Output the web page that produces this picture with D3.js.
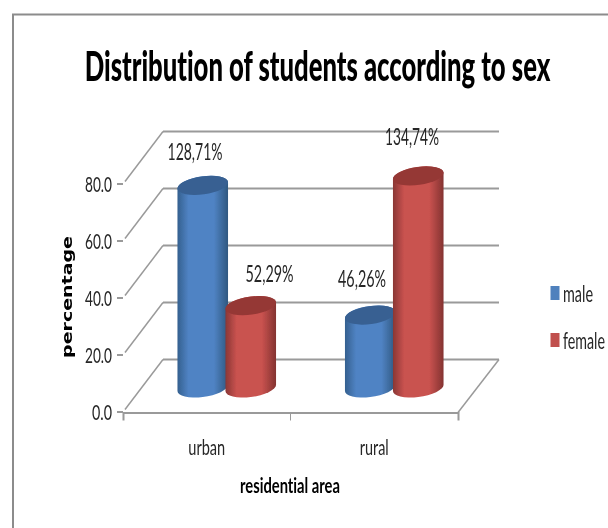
<!DOCTYPE html>
<html><head><meta charset="utf-8">
<script src="https://cdnjs.cloudflare.com/ajax/libs/d3/7.8.5/d3.min.js"></script>
<style>html,body{margin:0;padding:0;background:#fff}svg{display:block}text{font-variant-ligatures:none}</style>
</head><body><svg id="c" width="608" height="528"></svg>
<script>
const categories = ["urban", "rural"];
const seriesNames = ["male", "female"];
const maleValues = [71.1, 25.6];
const femaleValues = [28.9, 74.4];
const maleLabels = ["128,71%", "46,26%"];
const femaleLabels = ["52,29%", "134,74%"];
const yTicks = [0, 20, 40, 60, 80];
const titleText = "Distribution of students according to sex";

const root = d3.select("#c");
const FONT = "Lato,'Open Sans',sans-serif";
const defs = root.append("defs");
const soft = defs.append("filter").attr("id","soft").attr("filterUnits","userSpaceOnUse")
  .attr("x",0).attr("y",0).attr("width",608).attr("height",528);
soft.append("feGaussianBlur").attr("stdDeviation",0.4);
const svg = root.append("g").attr("filter","url(#soft)");

function grad(id, edgeL, mid, edgeR){
  const g = defs.append("linearGradient").attr("id",id).attr("x1",0).attr("x2",1).attr("y1",0).attr("y2",0);
  [[0,edgeL],[0.22,mid],[0.72,mid],[1,edgeR]].forEach(s=>g.append("stop").attr("offset",s[0]).attr("stop-color",s[1]));
}
grad("gm","#34608f","#5083c4","#2f5880");
grad("gf","#8a3735","#c9524f","#843331");

const colours = {male:{body:"url(#gm)",top:"#376092",key:"#4f81bd"},female:{body:"url(#gf)",top:"#953735",key:"#c0504d"}};
const y = d3.scaleLinear().domain([0,80]).range([411.5,183.5]);
const x = d3.scaleBand().domain(categories).range([123,458]);
const xs = d3.scaleBand().domain(seriesNames).range([-48,48]);
const depthX = 40, depthY = -52, lineCol = "#9a9a9a";

// outer frame
svg.append("path").attr("d","M13,528V14.5H608").attr("fill","none").attr("stroke","#8c8c8c").attr("stroke-width",2);

const plot = svg.append("g");
yTicks.forEach(t=>{
  const yy = y(t);
  plot.append("line").attr("x1",123+depthX).attr("x2",458+depthX+1).attr("y1",yy+depthY).attr("y2",yy+depthY).attr("stroke",lineCol).attr("stroke-width",2);
  plot.append("line").attr("x1",125).attr("x2",123+depthX).attr("y1",yy-2).attr("y2",yy+depthY).attr("stroke",lineCol).attr("stroke-width",1.5);
});
plot.append("line").attr("x1",458).attr("x2",458+depthX+1).attr("y1",y(0)+1).attr("y2",y(0)+depthY).attr("stroke",lineCol).attr("stroke-width",1.5);

// axes
const gx = svg.append("g").attr("transform",`translate(0,${y(0)+1})`).call(d3.axisBottom(x).tickValues([]).tickSizeOuter(8));
gx.select(".domain").attr("stroke",lineCol).attr("stroke-width",2);
gx.append("line").attr("x1",(123+458)/2).attr("x2",(123+458)/2).attr("y1",0).attr("y2",8).attr("stroke",lineCol).attr("stroke-width",1);

const gy = svg.append("g").attr("transform","translate(123,0)").call(d3.axisLeft(y).tickValues(yTicks).tickSize(6).tickFormat(()=>""));
gy.select(".domain").remove();
gy.selectAll("line").attr("stroke",lineCol).attr("stroke-width",2);

// cylinders
const rx=25.5, ry=9, rot=-8, th=rot*Math.PI/180;
const X=Math.sqrt(rx*rx*Math.cos(th)**2+ry*ry*Math.sin(th)**2);
const dy=(rx*rx-ry*ry)*Math.abs(Math.sin(th)*Math.cos(th))/X;
const baseOffset=-23.5, shiftX=20;
function cylinder(cat,name,v){
  const cx=x(cat)+x.bandwidth()/2+xs(name)+xs.bandwidth()/2+shiftX;
  const yb=y(0)+baseOffset, yt=y(v)+baseOffset;
  const g=svg.append("g").attr("transform",`translate(${cx},0)`);
  g.append("path").attr("fill",colours[name].body)
    .attr("d",`M${-X},${yt+dy}L${-X},${yb+dy}A${rx},${ry} ${rot} 0 0 ${X},${yb-dy}L${X},${yt-dy}A${rx},${ry} ${rot} 0 0 ${-X},${yt+dy}Z`);
  g.append("ellipse").attr("cx",0).attr("cy",yt).attr("rx",rx).attr("ry",ry)
    .attr("transform",`rotate(${rot} 0 ${yt})`).attr("fill",colours[name].top);
}
categories.forEach((c,i)=>{cylinder(c,"male",maleValues[i]);cylinder(c,"female",femaleValues[i]);});

// text helper: horizontally condensed real text, scaled to the reference's width
function txt(s,px,py,size,w,opt={}){
  const t = svg.append("text").text(s).attr("font-size",size)
    .attr("font-family",opt.family||FONT).attr("font-weight",opt.weight||400)
    .attr("fill",opt.fill||"#262626").attr("text-anchor",opt.anchor||"middle")
    .attr("dominant-baseline","central");
  const k = w/t.node().getComputedTextLength();
  t.attr("transform",`translate(${px},${py}) rotate(${opt.rotate||0}) scale(${k},1)`);
  return t;
}
txt(titleText,317.5,65,41,466,{weight:900,fill:"#000"});
txt(maleLabels[0],195,151,23,55);
txt(femaleLabels[0],269.5,273,23,48);
txt(maleLabels[1],362,278,23,48);
txt(femaleLabels[1],412,136,23,54);
yTicks.forEach(t=>txt(d3.format(".1f")(t),112,y(t),22,t===0?20:27,{anchor:"end"}));
categories.forEach(c=>txt(c,x(c)+x.bandwidth()/2,447,22,c==="urban"?37:29));
txt("residential area",290,486,20,100,{weight:700,fill:"#000"});
txt("percentage",67,297,14,122,{family:"'DejaVu Sans',sans-serif",weight:700,fill:"#000",rotate:-90});

// legend
const legendY=d3.scalePoint().domain(seriesNames).range([293,340]);
seriesNames.forEach(n=>{
  svg.append("rect").attr("x",550.5).attr("y",legendY(n)-7).attr("width",9).attr("height",14).attr("fill",colours[n].key);
  txt(n,563,legendY(n),23,n==="male"?30:42,{anchor:"start"});
});
</script></body></html>
